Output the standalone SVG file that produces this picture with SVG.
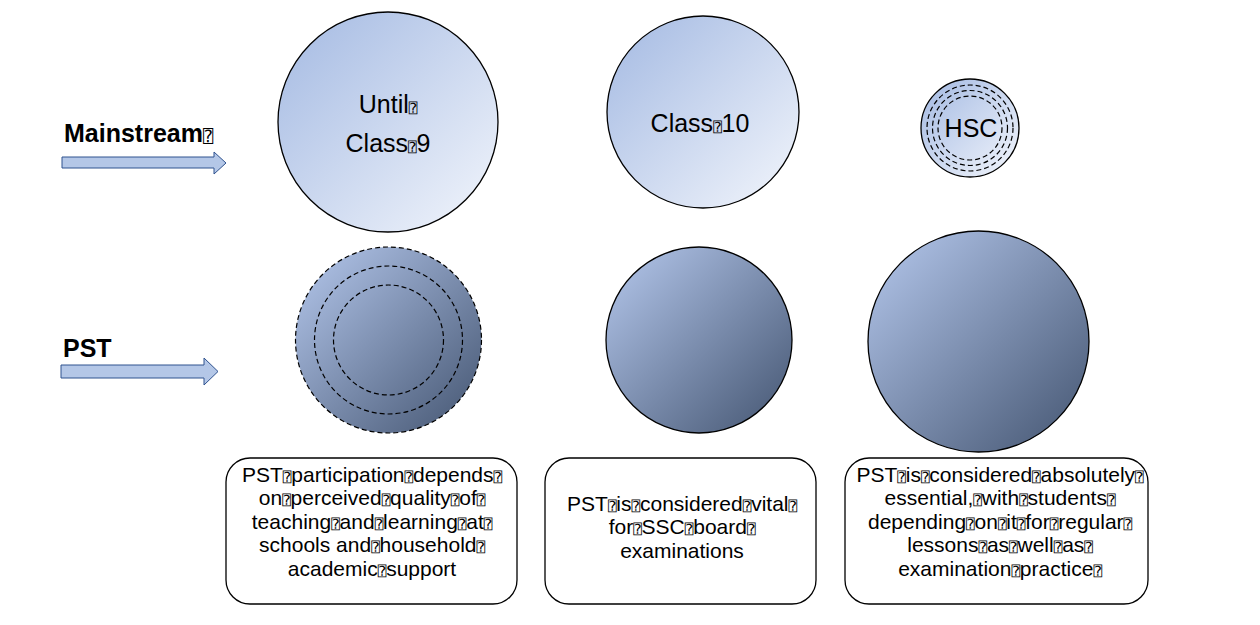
<svg xmlns="http://www.w3.org/2000/svg" width="1260" height="625" viewBox="0 0 1260 625">
<defs>
<linearGradient id="gTop" x1="0" y1="0" x2="1" y2="1">
<stop offset="0" stop-color="#a3b9e2"/>
<stop offset="1" stop-color="#f3f6fc"/>
</linearGradient>
<linearGradient id="gBot" x1="0" y1="0" x2="1" y2="1">
<stop offset="0" stop-color="#b6c9ee"/>
<stop offset="1" stop-color="#435470"/>
</linearGradient>
<style>
.t{font-family:"Liberation Sans",Arial,sans-serif;font-size:21px;fill:#000;text-anchor:middle}
.c{font-size:25px}
.lbl{font-family:"Liberation Sans",Arial,sans-serif;font-weight:bold;font-size:25px;fill:#000}
.q{font-family:"DejaVu Sans Mono","DejaVu Sans",monospace;font-size:14px;font-weight:normal}
.ql{font-size:17px}
.circ{stroke:#000;stroke-width:1.3}
.dash{fill:none;stroke:#000;stroke-width:1.2;stroke-dasharray:5 3}
.box{fill:#fff;stroke:#000;stroke-width:1.3}
.arr{fill:#b4c7e7;stroke:#2f528f;stroke-width:1}
</style>
</defs>
<rect width="1260" height="625" fill="#fff"/>

<g id="connectors">
<path class="arr" d="M62,157 H214 V152 L226,163 L214,174 V168 H62 Z"/>
<path class="arr" d="M61,365 H204 V358 L218,371.5 L204,385 V378 H61 Z"/>
</g>

<g id="label-mainstream">
<text class="lbl" x="64" y="142">Mainstream<tspan class="q ql">⍰</tspan></text>
</g>
<g id="label-pst">
<text class="lbl" x="63" y="357">PST</text>
</g>

<g id="node-class9">
<circle class="circ" cx="388" cy="122" r="110" fill="url(#gTop)"/>
<text class="t c"><tspan x="388" y="113">Until<tspan class="q">⍰</tspan></tspan><tspan x="388" y="152">Class<tspan class="q">⍰</tspan>9</tspan></text>
</g>

<g id="node-class10">
<circle class="circ" cx="703" cy="112" r="96" fill="url(#gTop)"/>
<text class="t c" x="700" y="132">Class<tspan class="q">⍰</tspan>10</text>
</g>

<g id="node-hsc">
<circle class="circ" cx="970" cy="128" r="49" fill="url(#gTop)"/>
<circle class="dash" cx="970" cy="128" r="43"/>
<circle class="dash" cx="970" cy="128" r="37.5"/>
<circle class="dash" cx="970" cy="128" r="32"/>
<text class="t c" x="971" y="137">HSC</text>
</g>

<g id="node-pst9">
<circle cx="388.5" cy="340" r="93" fill="url(#gBot)"/>
<circle class="dash" cx="388.5" cy="340" r="93"/>
<circle class="dash" cx="388.5" cy="340" r="74"/>
<circle class="dash" cx="388.5" cy="340" r="55"/>
</g>

<g id="node-pst10">
<circle class="circ" cx="699" cy="340" r="93" fill="url(#gBot)"/>
</g>

<g id="node-psthsc">
<circle class="circ" cx="978.5" cy="341.5" r="110.5" fill="url(#gBot)"/>
</g>

<g id="note-1">
<rect class="box" x="226" y="458" width="291" height="146" rx="24"/>
<text class="t"><tspan x="372" y="481.5">PST<tspan class="q">⍰</tspan>participation<tspan class="q">⍰</tspan>depends<tspan class="q">⍰</tspan></tspan><tspan x="372" y="505">on<tspan class="q">⍰</tspan>perceived<tspan class="q">⍰</tspan>quality<tspan class="q">⍰</tspan>of<tspan class="q">⍰</tspan></tspan><tspan x="372" y="528.5">teaching<tspan class="q">⍰</tspan>and<tspan class="q">⍰</tspan>learning<tspan class="q">⍰</tspan>at<tspan class="q">⍰</tspan></tspan><tspan x="372" y="552">schools and<tspan class="q">⍰</tspan>household<tspan class="q">⍰</tspan></tspan><tspan x="372" y="575.5">academic<tspan class="q">⍰</tspan>support</tspan></text>
</g>

<g id="note-2">
<rect class="box" x="545" y="458" width="271" height="146" rx="24"/>
<text class="t"><tspan x="682" y="510.5">PST<tspan class="q">⍰</tspan>is<tspan class="q">⍰</tspan>considered<tspan class="q">⍰</tspan>vital<tspan class="q">⍰</tspan></tspan><tspan x="682" y="534">for<tspan class="q">⍰</tspan>SSC<tspan class="q">⍰</tspan>board<tspan class="q">⍰</tspan></tspan><tspan x="682" y="557.5">examinations</tspan></text>
</g>

<g id="note-3">
<rect class="box" x="845" y="458" width="303" height="146" rx="24"/>
<text class="t"><tspan x="1000" y="481.5">PST<tspan class="q">⍰</tspan>is<tspan class="q">⍰</tspan>considered<tspan class="q">⍰</tspan>absolutely<tspan class="q">⍰</tspan></tspan><tspan x="1000" y="505">essential,<tspan class="q">⍰</tspan>with<tspan class="q">⍰</tspan>students<tspan class="q">⍰</tspan></tspan><tspan x="1000" y="528.5">depending<tspan class="q">⍰</tspan>on<tspan class="q">⍰</tspan>it<tspan class="q">⍰</tspan>for<tspan class="q">⍰</tspan>regular<tspan class="q">⍰</tspan></tspan><tspan x="1000" y="552">lessons<tspan class="q">⍰</tspan>as<tspan class="q">⍰</tspan>well<tspan class="q">⍰</tspan>as<tspan class="q">⍰</tspan></tspan><tspan x="1000" y="575.5">examination<tspan class="q">⍰</tspan>practice<tspan class="q">⍰</tspan></tspan></text>
</g>
</svg>
